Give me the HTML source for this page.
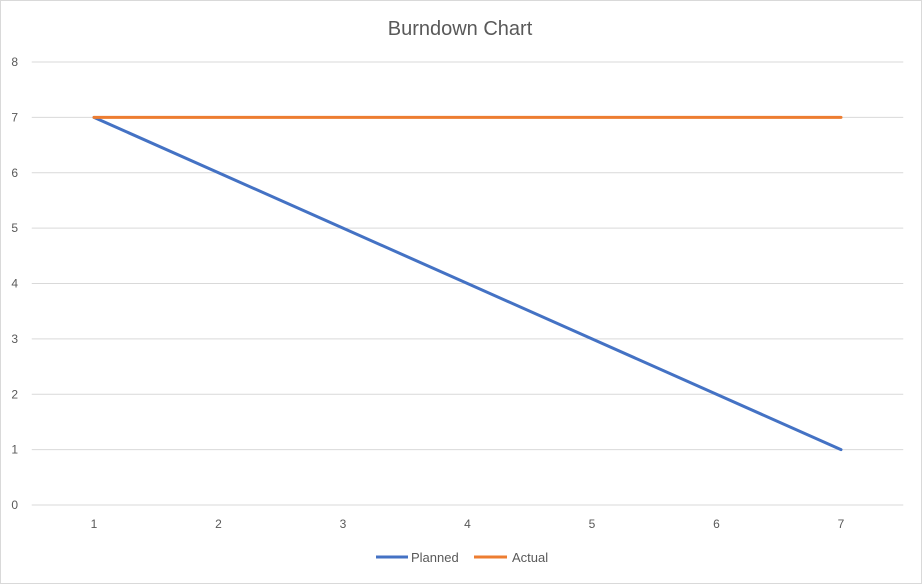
<!DOCTYPE html>
<html><head><meta charset="utf-8"><style>
body{margin:0;background:#fff;}
svg{display:block;font-family:"Liberation Sans",Calibri,sans-serif;}
</style></head><body>
<svg id="chart" width="922" height="584">
<rect x="0.5" y="0.5" width="921" height="583" fill="#fff" stroke="#d9d9d9"/>
<text x="460" y="35" text-anchor="middle" font-size="20" fill="#595959">Burndown Chart</text>
<g id="grid"></g><g id="series"></g>
<g>
<g><line x1="376" y1="557" x2="408" y2="557" stroke="#4472c4" stroke-width="3"/><text x="411" y="562" font-size="13" fill="#595959">Planned</text></g>
<g><line x1="474" y1="557" x2="507" y2="557" stroke="#ed7d31" stroke-width="3"/><text x="512" y="562" font-size="13" fill="#595959">Actual</text></g>
</g>
</svg>
<script>
const categories=[1,2,3,4,5,6,7];
const planned=[7,6,5,4,3,2,1];
const actual=[7,7,7,7,7,7,7];
const yTicks=[0,1,2,3,4,5,6,7,8];
const NS="http://www.w3.org/2000/svg";
const plotLeft=31.75,plotRight=903.25,plotTop=62,plotBottom=505,yMax=8;
const bw=(plotRight-plotLeft)/categories.length;
function xs(i){return plotLeft+bw*(i+0.5);}
function ys(v){return plotBottom-(v/yMax)*(plotBottom-plotTop);}
const grid=document.getElementById('grid'),ser=document.getElementById('series');
function mk(t,a,p){const e=document.createElementNS(NS,t);for(const k in a)e.setAttribute(k,a[k]);p.appendChild(e);return e;}
yTicks.forEach(v=>{
 const l=mk('line',{x1:plotLeft,x2:plotRight,y1:ys(v),y2:ys(v),stroke:'#d9d9d9','stroke-width':1},grid);
 
 
 const t=mk('text',{x:18,y:ys(v)+4,'text-anchor':'end','font-size':12,fill:'#595959'},grid);
 t.textContent=v;
 
 
});
categories.forEach((c,i)=>{
 const t=mk('text',{x:xs(i),y:528,'text-anchor':'middle','font-size':12,fill:'#595959'},grid);
 t.textContent=c;
 
 
});
function line(vals,color,name){
 const p=mk('polyline',{points:vals.map((v,i)=>xs(i)+','+ys(v)).join(' '),fill:'none',stroke:color,'stroke-width':3,'stroke-linejoin':'round','stroke-linecap':'round'},ser);
 
 
}
line(planned,'#4472c4','planned-line');
line(actual,'#ed7d31','actual-line');
</script>
</body></html>
